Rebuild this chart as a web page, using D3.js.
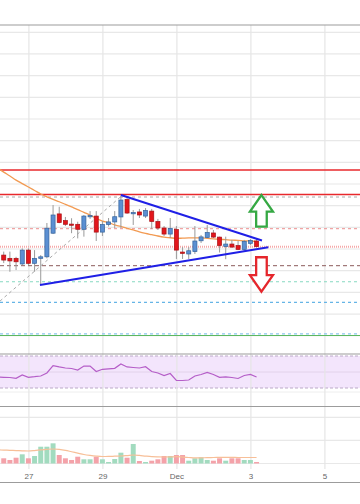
<!DOCTYPE html>
<html><head><meta charset="utf-8">
<script src="https://cdn.jsdelivr.net/npm/d3@7"></script>
<style>body{margin:0;background:#fff}svg{display:block}</style>
</head><body>
<svg id="c" width="360" height="504"></svg>
<script>
// ---------- DATA ----------
const times = [
"2018-11-26T04:00","2018-11-26T08:00","2018-11-26T12:00","2018-11-26T16:00","2018-11-26T20:00",
"2018-11-27T00:00","2018-11-27T04:00","2018-11-27T08:00","2018-11-27T12:00","2018-11-27T16:00","2018-11-27T20:00",
"2018-11-28T00:00","2018-11-28T04:00","2018-11-28T08:00","2018-11-28T12:00","2018-11-28T16:00","2018-11-28T20:00",
"2018-11-29T00:00","2018-11-29T04:00","2018-11-29T08:00","2018-11-29T12:00","2018-11-29T16:00","2018-11-29T20:00",
"2018-11-30T00:00","2018-11-30T04:00","2018-11-30T08:00","2018-11-30T12:00","2018-11-30T16:00","2018-11-30T20:00",
"2018-12-01T00:00","2018-12-01T04:00","2018-12-01T08:00","2018-12-01T12:00","2018-12-01T16:00","2018-12-01T20:00",
"2018-12-02T00:00","2018-12-02T04:00","2018-12-02T08:00","2018-12-02T12:00","2018-12-02T16:00","2018-12-02T20:00",
"2018-12-03T00:00","2018-12-03T04:00"];
const open  = [3795,3772,3757,3757,3731, 3795,3734,3757,3764,3873,3962, 3931,3915,3914,3891,3949,3952, 3878,3913,3925,3948,4028,3964, 3971,3952,3975,3927,3897,3869, 3890,3786,3777,3788,3838,3853, 3874,3855,3811,3823,3816,3798, 3826,3837];
const high  = [3805,3788,3788,3764,3803, 3803,3795,3772,3920,4003,3995, 3948,3942,3926,3957,3975,3975, 3929,3943,3975,4045,4035,3980, 3985,3989,3985,3939,3906,3943, 3906,3809,3809,3906,3865,3911, 3888,3857,3857,3842,3837,3842, 3846,3849];
const low   = [3765,3735,3695,3703,3726, 3726,3695,3634,3757,3869,3919, 3906,3873,3849,3857,3939,3837, 3860,3904,3897,3897,3962,3911, 3943,3943,3892,3888,3860,3851, 3754,3754,3754,3777,3828,3851, 3851,3784,3753,3805,3795,3791, 3818,3807];
const close = [3772,3749,3745,3741,3795, 3734,3757,3764,3896,3957,3922, 3914,3910,3891,3952,3954,3878, 3913,3925,3949,4026,3966,3968, 3957,3978,3927,3897,3869,3895, 3795,3780,3792,3837,3856,3876, 3855,3816,3823,3809,3798,3835, 3839,3811];
const priceMA = [4174,4155,4137,4118,4102, 4086,4070,4054,4041,4029,4018, 4006,3994,3982,3969,3957,3941, 3929,3922,3911,3904,3895,3888, 3879,3872,3866,3860,3855,3852, 3849,3850,3851,3851,3851,3849, 3847,3845,3843,3841,3840,3838, 3837,3835];
const volume = [300,225,152,251,398, 225,325,727,727,874,368, 225,152,294,182,182,294, 182,65,195,468,251,844, 108,65,121,182,325,325, 368,368,121,225,268,152, 121,225,121,225,225,152, 152,65];
const volumeMA = [590,580,570,560,550, 541,560,590,615,628,610, 570,510,450,390,350,320, 303,305,315,325,345,368, 350,320,295,285,281,285, 294,280,260,240,245,255, 260,262,262,262,260,260, 260,260];
const rsi = [43.8,43.4,43.1,42.1,46.3, 43.4,44.1,45,48.8,57.9,56.3, 55,54.4,52.5,57.5,57.3,50.6, 53.4,54,54.6,60,56.3,55.6, 55,56.6,50.6,48.8,45.6,48.1, 39.4,39.4,40,45,46.9,49.4, 46.9,43.4,44,43.1,41.9,45.6, 46.9,43.8];

const tickDates  = ["2018-11-27T00:00","2018-11-29T00:00","2018-12-01T00:00","2018-12-03T00:00","2018-12-05T00:00"];
const tickLabels = ["27","29","Dec","3","5"];

const levelPrices = [4165, 4051, 4040, 3894, 3811, 3723, 3649, 3554, 3408, 3400];
const upperTrend = [["2018-11-29T12:00", 4049], ["2018-12-03T07:30", 3839]];
const lowerTrend = [["2018-11-27T07:30", 3634], ["2018-12-03T11:36", 3808]];
const fibDiag    = [["2018-11-26T05:36", 3560], ["2018-11-29T12:00", 4042]];
const upArrow   = {time: "2018-12-03T07:10", top: 4049, bottom: 3903};
const downArrow = {time: "2018-12-03T07:10", top: 3762, bottom: 3603};

// ---------- STYLES ----------
const levelStyles = [
  {c:"#e8282c", w:1.5, d:null},
  {c:"#e8282c", w:1.5, d:null},
  {c:"#a8a8a8", w:1, d:"3,3"},
  {c:"#f0a4a4", w:1.2, d:"3,3"},
  {c:"#f6a8a8", w:2, d:"1,1"},
  {c:"#8c5a5a", w:1, d:"4,3"},
  {c:"#86d9c1", w:1.2, d:"3,3"},
  {c:"#66b5e6", w:1.2, d:"3,3"},
  {c:"#8cc6ec", w:1.2, d:"3,3"},
  {c:"#5cb860", w:1.5, d:null}
];

// ---------- SCALES ----------
const parse = d3.timeParse("%Y-%m-%dT%H:%M");
const T = times.map(parse);
const x = d3.scaleTime().domain([parse("2018-11-27T00:00"), parse("2018-12-05T00:00")]).range([28.4, 324.4]);
const y = d3.scaleLinear().domain([3400, 4800]).range([335.7, 32.3]);
const yR = d3.scaleLinear().domain([30, 70]).range([388, 356]);
const yV = d3.scaleLinear().domain([0, 2000]).range([463.5, 417.3]);
const step = x(T[1]) - x(T[0]);

const svg = d3.select("#c");
const defs = svg.append("defs");
defs.append("clipPath").attr("id","cm").append("rect").attr("x",0).attr("y",25).attr("width",360).attr("height",311);
defs.append("clipPath").attr("id","cr").append("rect").attr("x",0).attr("y",354).attr("width",360).attr("height",52);
defs.append("clipPath").attr("id","cv").append("rect").attr("x",0).attr("y",407).attr("width",360).attr("height",60);

// horizontal grid main
svg.append("g").selectAll("line").data(y.ticks(14)).join("line")
  .attr("x1",0).attr("x2",360).attr("y1",d=>y(d)).attr("y2",d=>y(d))
  .attr("stroke","#e8e8e8").attr("stroke-width",1.2);

// RSI band
svg.append("rect").attr("x",0).attr("width",360).attr("y",yR(70)).attr("height",yR(30)-yR(70)).attr("fill","#f3e5fc");
svg.append("line").attr("x1",0).attr("x2",360).attr("y1",yR(50)).attr("y2",yR(50)).attr("stroke","#e2d2ea");
svg.append("line").attr("x1",0).attr("x2",360).attr("y1",yR(25)).attr("y2",yR(25)).attr("stroke","#eeeeee");
[70,30].forEach(v=>svg.append("line").attr("x1",0).attr("x2",360).attr("y1",yR(v)).attr("y2",yR(v))
  .attr("stroke","#bba8c8").attr("stroke-dasharray","3,2"));

// volume grid
svg.append("g").selectAll("line").data([1000,2000,0]).join("line")
  .attr("x1",0).attr("x2",360).attr("y1",d=>yV(d)).attr("y2",d=>yV(d))
  .attr("stroke","#e8e8e8").attr("stroke-width",1.2);

// vertical grid + labels via axis
const ax = svg.append("g").attr("transform","translate(0,469)")
  .call(d3.axisBottom(x).tickValues(tickDates.map(parse)).tickFormat((d,i)=>tickLabels[i])
    .tickSize(-444).tickPadding(4));
ax.select(".domain").remove();
ax.selectAll("line").attr("stroke","#e6e6e6").attr("stroke-width",1.2);
ax.selectAll("text").attr("fill","#666").style("font-family","Liberation Sans, Arial, sans-serif").style("font-size","8px");

// pane separators
[25, 354, 406.5, 482.5].forEach(v=>svg.append("line").attr("x1",0).attr("x2",360).attr("y1",v).attr("y2",v)
  .attr("stroke","#9c9c9c").attr("stroke-width",1.2));

// ----- main pane -----
const gm = svg.append("g").attr("clip-path","url(#cm)");
gm.selectAll("line.lv").data(levelPrices).join("line").attr("class","lv")
  .attr("x1",0).attr("x2",360).attr("y1",d=>y(d)).attr("y2",d=>y(d))
  .attr("stroke",(d,i)=>levelStyles[i].c).attr("stroke-width",(d,i)=>levelStyles[i].w)
  .attr("stroke-dasharray",(d,i)=>levelStyles[i].d);

const ln = d3.line().x(d=>x(parse(d[0]))).y(d=>y(d[1]));
gm.append("path").attr("d",ln(fibDiag)).attr("fill","none").attr("stroke","#a9a9a9").attr("stroke-width",1).attr("stroke-dasharray","3,3");

gm.append("path").attr("d",d3.line().x((d,i)=>x(T[i])).y(d=>y(d)).curve(d3.curveMonotoneX)(priceMA))
  .attr("fill","none").attr("stroke","#f29a52").attr("stroke-width",1.3);

const idx = d3.range(times.length);
gm.selectAll("line.wk").data(idx).join("line").attr("class","wk")
  .attr("x1",i=>x(T[i])).attr("x2",i=>x(T[i])).attr("y1",i=>y(high[i])).attr("y2",i=>y(low[i]))
  .attr("stroke","#9a9a9a").attr("stroke-width",1);
const bw = step*0.66;
gm.selectAll("rect.bd").data(idx).join("rect").attr("class","bd")
  .attr("x",i=>x(T[i])-bw/2).attr("width",bw)
  .attr("y",i=>y(Math.max(open[i],close[i])))
  .attr("height",i=>Math.max(1.2, Math.abs(y(open[i])-y(close[i]))))
  .attr("fill",i=>close[i]>=open[i]?"#5b8fd2":"#e3161c")
  .attr("stroke",i=>close[i]>=open[i]?"#35649c":"#a81015").attr("stroke-width",0.7);

gm.append("path").attr("d",ln(upperTrend)).attr("stroke","#1f1fe6").attr("stroke-width",2).attr("fill","none");
gm.append("path").attr("d",ln(lowerTrend)).attr("stroke","#1f1fe6").attr("stroke-width",2).attr("fill","none");

// arrows
function arrowPath(cx, yTip, yEnd, dir){
  const hh = 16.5, hw = 11.5, sw = 5.3;
  const yh = yTip + dir*hh;
  return `M${cx},${yTip} L${cx+hw},${yh} L${cx+sw},${yh} L${cx+sw},${yEnd} L${cx-sw},${yEnd} L${cx-sw},${yh} L${cx-hw},${yh} Z`;
}
const ua = x(parse(upArrow.time));
gm.append("path").attr("d",arrowPath(ua, y(upArrow.top), y(upArrow.bottom), 1))
  .attr("fill","#fff").attr("stroke","#35a843").attr("stroke-width",2.3).attr("stroke-linejoin","miter");
const da = x(parse(downArrow.time));
gm.append("path").attr("d",arrowPath(da, y(downArrow.bottom), y(downArrow.top), -1))
  .attr("fill","#fff").attr("stroke","#e5262c").attr("stroke-width",2.3).attr("stroke-linejoin","miter");

// ----- RSI -----
svg.append("g").attr("clip-path","url(#cr)").append("path")
  .attr("d",d3.line().x((d,i)=>x(T[i])).y(d=>yR(d))(rsi))
  .attr("fill","none").attr("stroke","#b55ec8").attr("stroke-width",1.2);

// ----- Volume -----
const gv = svg.append("g").attr("clip-path","url(#cv)");
const vw = step - 1.2;
gv.selectAll("rect").data(idx).join("rect")
  .attr("x",i=>x(T[i])-vw/2).attr("width",vw)
  .attr("y",i=>yV(volume[i])).attr("height",i=>yV(0)-yV(volume[i]))
  .attr("fill",i=>close[i]>=open[i]?"#a2dbbf":"#f4a2a9");
gv.append("path").attr("d",d3.line().x((d,i)=>x(T[i])).y(d=>yV(d)).curve(d3.curveMonotoneX)(volumeMA))
  .attr("fill","none").attr("stroke","#f7bf98").attr("stroke-width",1.2);
</script>
</body></html>
